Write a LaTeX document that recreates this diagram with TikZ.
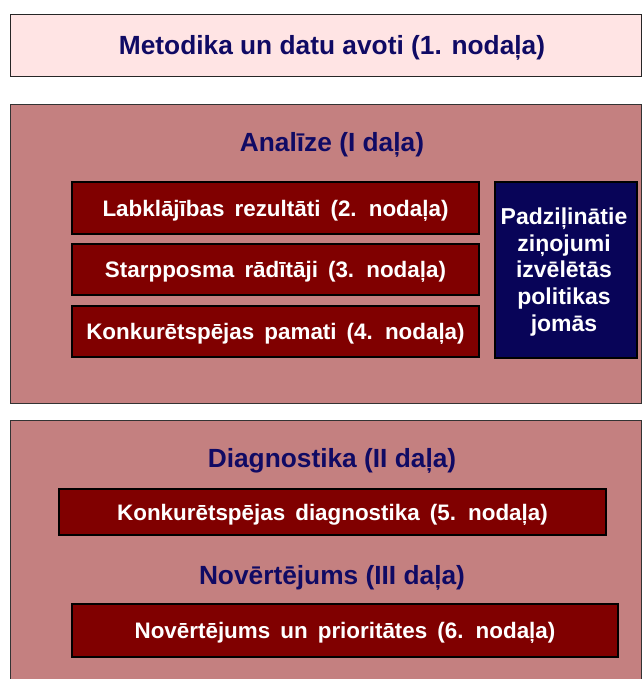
\documentclass[tikz,border=0pt]{standalone}
\usepackage{fontspec}
\setmainfont{Liberation Sans}
\definecolor{toppink}{RGB}{255,228,228}
\definecolor{hatch}{RGB}{196,128,128}
\definecolor{maroon}{RGB}{128,0,0}
\definecolor{navybox}{RGB}{8,4,88}
\definecolor{navytext}{RGB}{16,10,100}
\newcommand\myboxfont{\fontsize{22.4}{27}\selectfont\bfseries\spaceskip=0.45em plus 0.1em\relax}
\tikzset{
  bigbox/.style={draw=black!80, line width=0.9pt, fill=hatch},
  topbox/.style={draw=black!85, line width=0.9pt, fill=toppink},
  redbox/.style={draw=black, line width=1.4pt, fill=maroon},
  bluebox/.style={draw=black, line width=1.4pt, fill=navybox},
  titletext/.style={text=navytext, font=\fontsize{26.3}{31}\selectfont\bfseries, inner sep=0pt},
  boxtext/.style={text=white, font=\myboxfont, inner sep=0pt},
}
\begin{document}
\begin{tikzpicture}[x=1pt,y=-1pt]
\useasboundingbox (0,0) rectangle (642,679);
% top box
\draw[topbox] (10,14) rectangle (641,76);
\node[titletext] (metodika) at (332,48) {Metodika un datu avoti (1. nodaļa)};
% analysis part
\draw[bigbox] (10,104) rectangle (641,403);
\node[titletext] (analize) at (332,145) {Analīze (I daļa)};
\draw[redbox] (72,182) rectangle (479,234);
\node[boxtext] (labk) at (275.5,211) {Labklājības rezultāti (2. nodaļa)};
\draw[redbox] (72,244) rectangle (479,295);
\node[boxtext] (starp) at (275.5,272) {Starpposma rādītāji (3. nodaļa)};
\draw[redbox] (72,306) rectangle (479,357);
\node[boxtext] (konk) at (275.5,334) {Konkurētspējas pamati (4. nodaļa)};
\draw[bluebox] (495,182) rectangle (637,358);
\node[text=white, font=\fontsize{23}{26.7}\selectfont\bfseries, inner sep=0pt, align=center] (padz) at (564,272)
  {Padziļinātie\\ziņojumi\\izvēlētās\\politikas\\jomās};
% diagnostics and evaluation
\draw[bigbox] (10,420) rectangle (641,700);
\node[titletext] (diag) at (332,461) {Diagnostika (II daļa)};
\draw[redbox] (59,489) rectangle (606,535);
\node[boxtext] (kdiag) at (332.5,515) {Konkurētspējas diagnostika (5. nodaļa)};
\node[titletext] (novt) at (332,578) {Novērtējums (III daļa)};
\draw[redbox] (72,604) rectangle (618,657);
\node[boxtext] (novp) at (345,633) {Novērtējums un prioritātes (6. nodaļa)};
\end{tikzpicture}
\end{document}
